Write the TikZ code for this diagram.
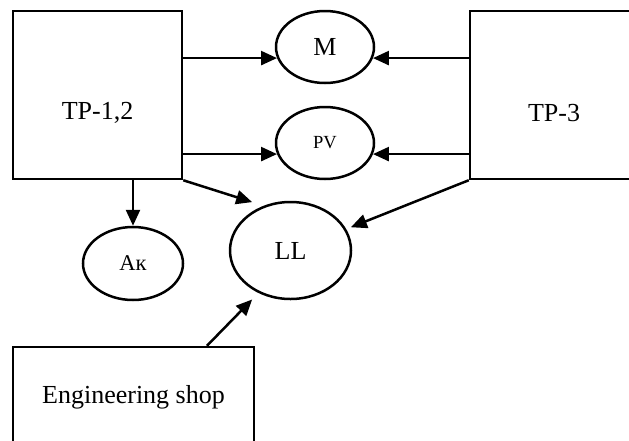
\documentclass[tikz,border=0pt]{standalone}
\usepackage{fontspec}
\setmainfont{Liberation Serif}
\usetikzlibrary{arrows.meta, shapes.geometric}

\tikzset{
  box/.style={draw, line width=2.5pt, rectangle, inner sep=0pt},
  oval/.style={draw, line width=2.5pt, ellipse, inner sep=0pt, font=\fontsize{26}{30}\selectfont},
  arr/.style={line width=2.5pt, -{Triangle[length=16pt,width=14pt]}},
  txt/.style={font=\fontsize{26}{30}\selectfont},
}

\begin{document}
\begin{tikzpicture}[x=1pt, y=-1pt]
        \useasboundingbox (0,0) rectangle (629,440);
        \clip (0,0) rectangle (629,440);

        % Substations
        \node[box, minimum width=169pt, minimum height=168pt] (tp12) at (97.5,95) {};
        \node[txt] (tp12txt) at (97.5,113) {TP-1,2};
        \node[box, minimum width=170pt, minimum height=168pt] (tp3) at (555,95) {};
        \node[txt] (tp3txt) at (554,113) {TP-3};

        % Consumers
        \node[oval, minimum width=98pt, minimum height=72pt] (m) at (325,47) {M};
        \node[oval, minimum width=98pt, minimum height=72pt, font=\fontsize{18.5}{22}\selectfont] (pv) at (325,143) {PV};
        \node[oval, minimum width=121pt, minimum height=97pt] (ll) at (290.5,250.5) {LL};
        \node[oval, minimum width=100pt, minimum height=73pt, font=\fontsize{22.5}{26}\selectfont] (ak) at (133,263.5) {Ак};

        % Workshop
        \node[box, minimum width=241pt, minimum height=113pt] (shop) at (133.5,403.5) {};
        \node[txt] (shoptxt) at (133.5,397) {Engineering shop};

        % Feeds
        \draw[arr] (tp12.east |- m.193) -- (m.193);
        \draw[arr] (tp12.east |- pv.193) -- (pv.193);
        \draw[arr] (tp3.west |- m.347) -- (m.347);
        \draw[arr] (tp3.west |- pv.347) -- (pv.347);
        \draw[arr] (tp12.south -| ak.north) -- (ak.north);
        \draw[arr, shorten >=12pt] (tp12.south east) -- (ll.121);
        \draw[arr, shorten >=5pt] (tp3.south west) -- (ll.21);
        \draw[arr, shorten >=9pt] (shop.north -| 207,0) -- (ll.233);
      \end{tikzpicture}
\end{document}
